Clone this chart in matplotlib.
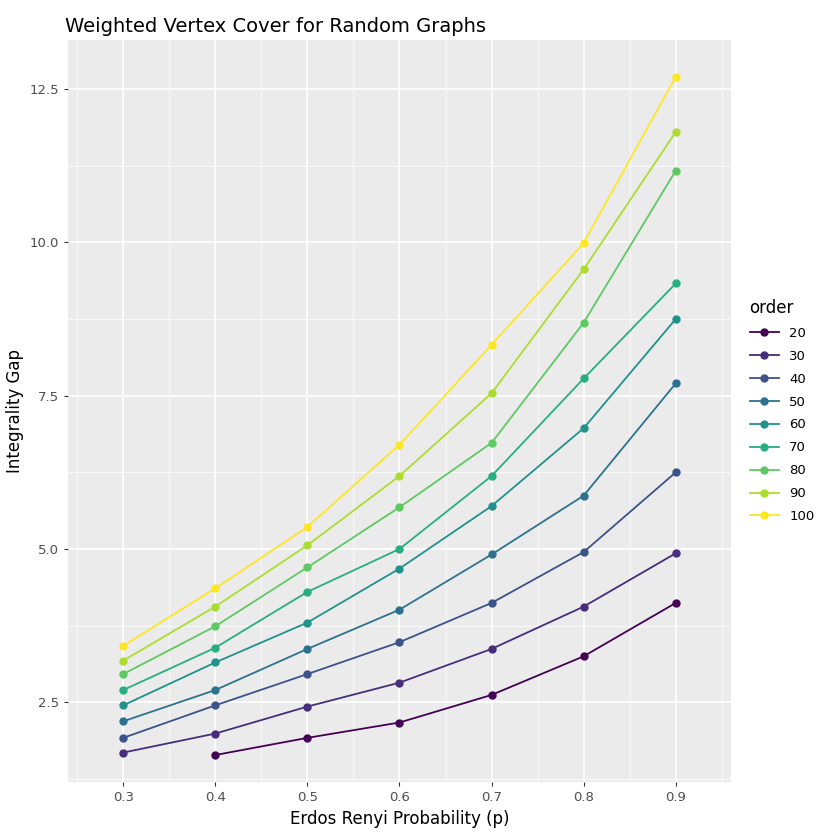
import numpy as np
import matplotlib.pyplot as plt

p = [0.3, 0.4, 0.5, 0.6, 0.7, 0.8, 0.9]
orders = [20, 30, 40, 50, 60, 70, 80, 90, 100]
gap = {
    20: [np.nan, 1.64, 1.92, 2.17, 2.62, 3.25, 4.12],
    30: [1.68, 1.99, 2.43, 2.82, 3.37, 4.06, 4.93],
    40: [1.92, 2.45, 2.96, 3.48, 4.12, 4.95, 6.25],
    50: [2.19, 2.70, 3.37, 4.01, 4.91, 5.87, 7.70],
    60: [2.45, 3.15, 3.80, 4.68, 5.70, 6.97, 8.75],
    70: [2.70, 3.39, 4.30, 5.00, 6.19, 7.78, 9.33],
    80: [2.96, 3.74, 4.70, 5.68, 6.73, 8.69, 11.17],
    90: [3.18, 4.06, 5.06, 6.19, 7.54, 9.56, 11.80],
    100: [3.42, 4.36, 5.36, 6.70, 8.33, 9.99, 12.70],
}

fig = plt.figure(figsize=(8.4, 8.4), dpi=100)
ax = fig.add_axes([68/840, 58/840, 663/840, 742/840])
ax.set_facecolor('#EBEBEB')
colors = plt.cm.viridis(np.linspace(0, 1, len(orders)))
for c, o in zip(colors, orders):
    ax.plot(p, gap[o], '-o', color=c, ms=5, lw=1.3, label=str(o))

ax.set_xlim(0.24, 0.96)
ax.set_ylim(1.2, 13.3)
ax.set_xticks(p)
ax.set_xticklabels([str(v) for v in p])
ax.set_yticks([2.5, 5.0, 7.5, 10.0, 12.5])
ax.set_xticks(np.arange(0.25, 0.96, 0.1), minor=True)
ax.set_yticks([1.25, 3.75, 6.25, 8.75, 11.25], minor=True)
ax.grid(True, which='major', color='white', lw=1.2)
ax.grid(True, which='minor', color='white', lw=0.5)
ax.set_axisbelow(True)
for s in ax.spines.values():
    s.set_visible(False)
ax.tick_params(which='both', length=3, color='#333333', labelcolor='#4D4D4D', labelsize=9.5)
ax.tick_params(which='minor', length=0)
ax.set_xlabel('Erdos Renyi Probability (p)', fontsize=12)
ax.set_ylabel('Integrality Gap', fontsize=12)
ax.set_title('Weighted Vertex Cover for Random Graphs', fontsize=14, loc='left', x=-0.005)

leg = ax.legend(title='order', loc='center left', bbox_to_anchor=(1.01, 0.5), frameon=False,
                fontsize=9.5, title_fontsize=12, handlelength=2.2, labelspacing=0.75)
leg._legend_box.align = 'left'
for h in leg.legend_handles:
    pass
fig.savefig('out.png', dpi=100)
